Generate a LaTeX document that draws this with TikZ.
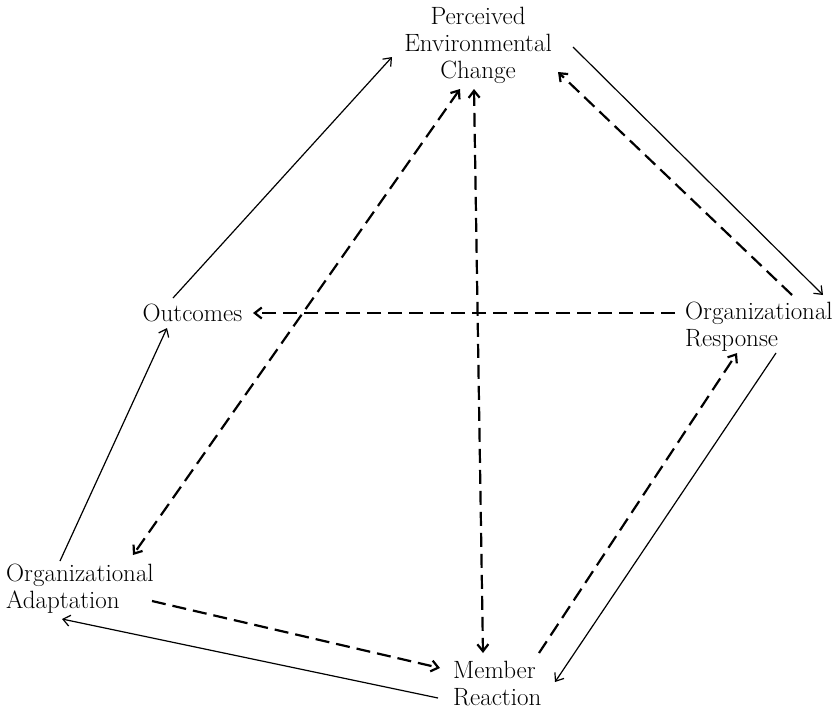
\documentclass[tikz,border=0pt]{standalone}
\usepackage{amsmath}
\usetikzlibrary{positioning,arrows.meta}
\begin{document}
\begin{tikzpicture}[x=1pt,y=-1pt,>={Straight Barb[length=7pt,width=11pt]},
  every node/.style={font=\fontsize{25}{27}\selectfont,inner sep=0pt},
  solidarr/.style={->,line width=1.2pt},
  dasharr/.style={->,line width=2.2pt,dash pattern=on 14pt off 7pt}]
  \useasboundingbox (0,0) rectangle (840,712);
  \node[align=center] (pec) at (478,45.5) {Perceived\\Environmental\\Change};
  \node (out) at (192.5,313) {Outcomes};
  \node[align=left,anchor=west] (resp) at (685,327) {Organizational\\Response};
  \node[align=left,anchor=west] (adapt) at (6,588.5) {Organizational\\Adaptation};
  \node[align=left,anchor=west] (memb) at (453,684) {Member\\Reaction};
  \draw[solidarr] ([shift={(-19.5,-15)}]out.center) -- ([shift={(-86,11.5)}]pec.center);
  \draw[solidarr] ([shift={(95,1.5)}]pec.center) -- ([shift={(138,-32)}]resp.west);
  \draw[dasharr] ([shift={(107,-32)}]resp.west) -- ([shift={(80,26.5)}]pec.center);
  \draw[dasharr] ([shift={(-10,-14)}]resp.west) -- ([shift={(60.5,0)}]out.center);
  \draw[solidarr] ([shift={(91,26)}]resp.west) -- ([shift={(102,-2)}]memb.west);
  \draw[dasharr] ([shift={(86,-31)}]memb.west) -- ([shift={(52,26)}]resp.west);
  \draw[dasharr,<->] ([shift={(-4,43.5)}]pec.center) -- ([shift={(30,-31)}]memb.west);
  \draw[dasharr,<->] ([shift={(-18,43.5)}]pec.center) -- ([shift={(127,-33.5)}]adapt.west);
  \draw[dasharr] ([shift={(146,12.5)}]adapt.west) -- ([shift={(-13,-16)}]memb.west);
  \draw[solidarr] ([shift={(-15,14)}]memb.west) -- ([shift={(56,30.5)}]adapt.west);
  \draw[solidarr] ([shift={(54,-27.5)}]adapt.west) -- ([shift={(-25.5,15)}]out.center);
\end{tikzpicture}
\end{document}
